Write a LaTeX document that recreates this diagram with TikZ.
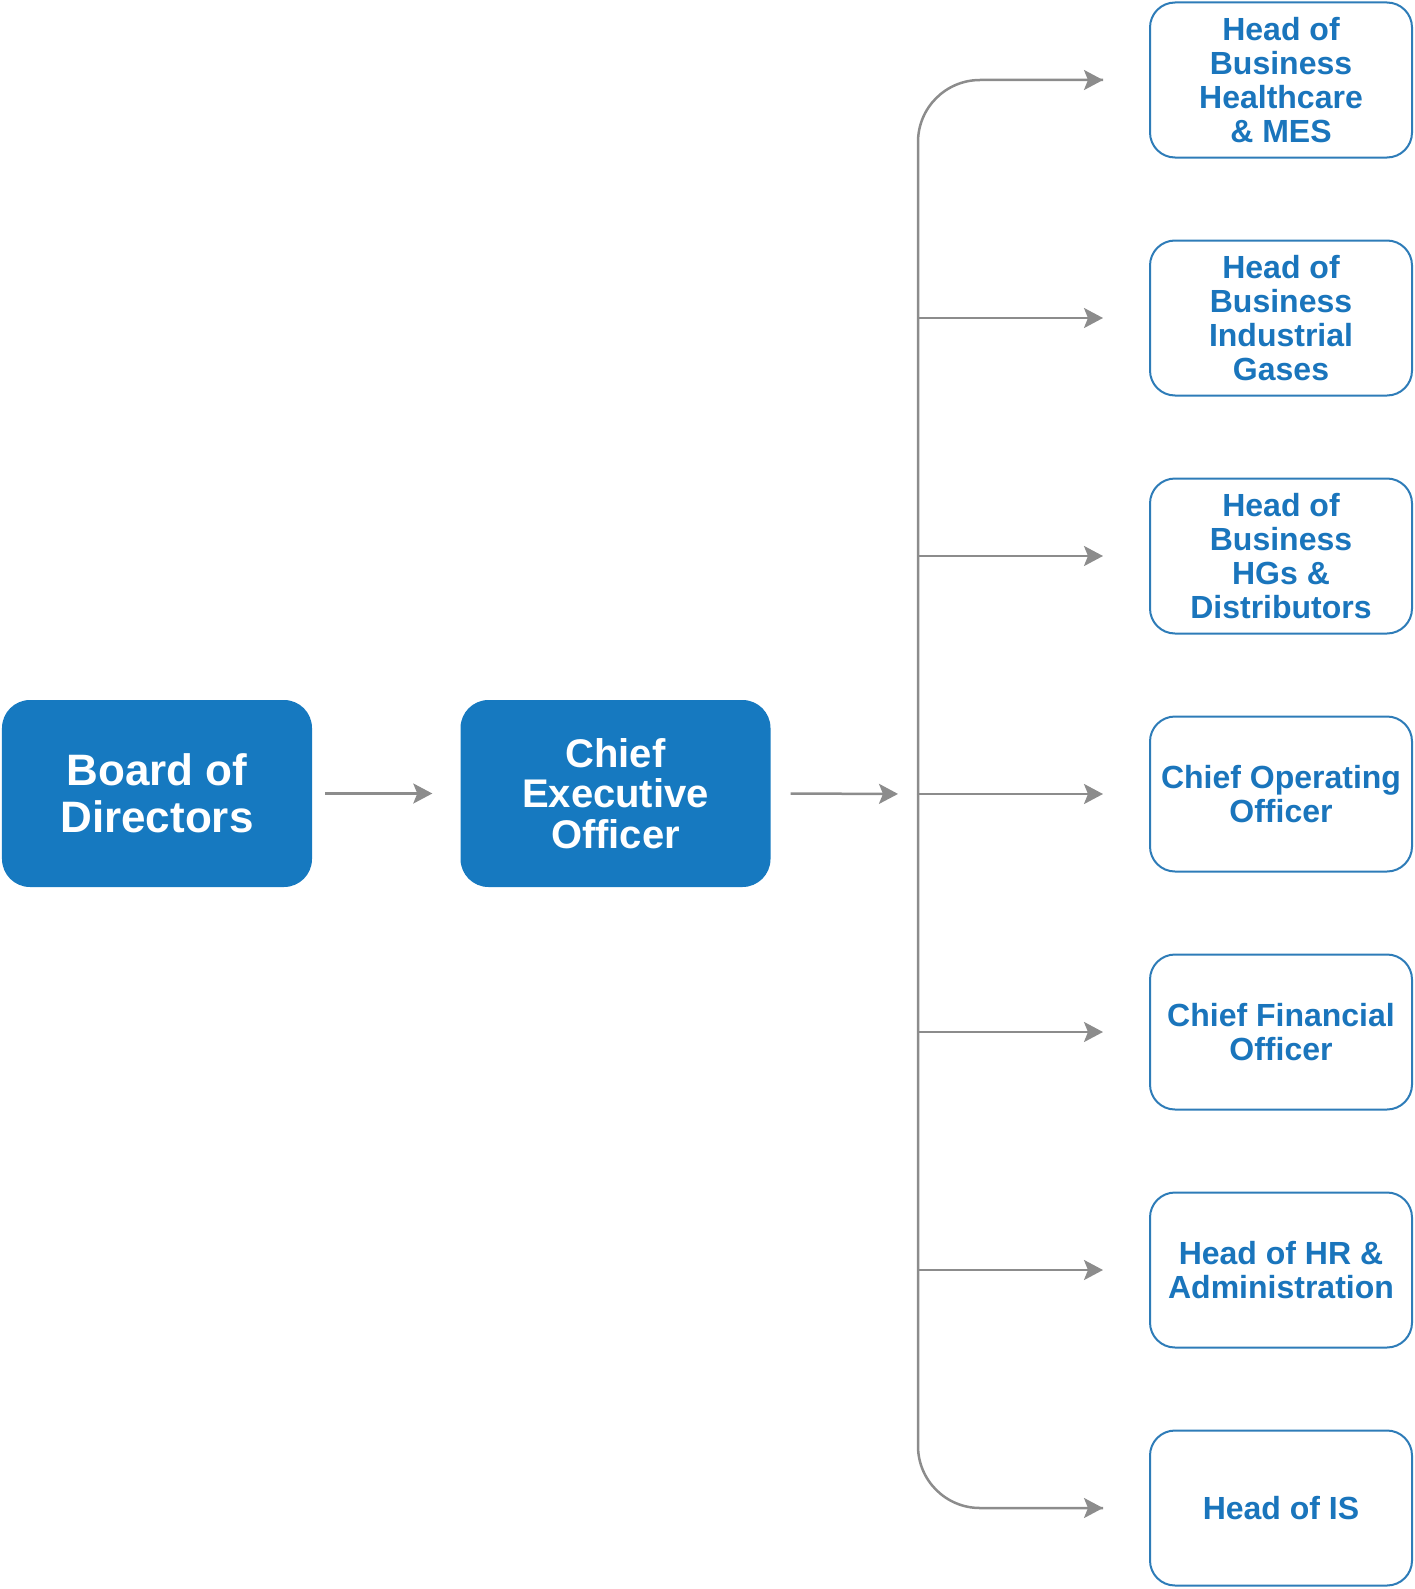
\documentclass[tikz,border=0pt]{standalone}
\usepackage{fontspec}
\setmainfont{Liberation Sans}
\usetikzlibrary{arrows.meta,calc}
\definecolor{dblue}{RGB}{22,121,192}
\definecolor{tblue}{RGB}{26,117,188}
\definecolor{lblue}{RGB}{46,124,184}
\definecolor{agray}{RGB}{140,140,140}
\tikzset{
  mainbox/.style={draw=none, fill=dblue, rounded corners=28bp, minimum width=310bp, minimum height=187bp, align=center, text=white, font=\bfseries\fontsize{44bp}{47bp}\selectfont, inner sep=0pt},
  subbox/.style={draw=lblue, line width=2bp, fill=white, rounded corners=25bp, minimum width=262bp, minimum height=155bp, align=center, text=tblue, font=\bfseries\fontsize{32bp}{34bp}\selectfont, inner sep=0pt},
  conn/.style={draw=agray, line width=2.5bp, -{Stealth[length=19bp,width=20bp,inset=4bp]}},
}
\begin{document}
\begin{tikzpicture}[x=1bp,y=-1bp]
\useasboundingbox (0,0) rectangle (1415,1589);
\node[mainbox] (board) at (157,793.5) {Board of\\Directors};
\node[mainbox, font=\bfseries\fontsize{40bp}{40.5bp}\selectfont] (ceo) at (615.5,793.5) {Chief\\Executive\\Officer};
\node[subbox] (b1) at (1281,80) {Head of\\Business\\Healthcare\\\& MES};
\node[subbox] (b2) at (1281,318) {Head of\\Business\\Industrial\\Gases};
\node[subbox] (b3) at (1281,556) {Head of\\Business\\HGs \&\\Distributors};
\node[subbox] (b4) at (1281,794) {Chief Operating\\Officer};
\node[subbox] (b5) at (1281,1032) {Chief Financial\\Officer};
\node[subbox] (b6) at (1281,1270) {Head of HR \&\\Administration};
\node[subbox] (b7) at (1281,1508) {Head of IS};
\coordinate (bus) at (918,794);
\draw[conn, shorten <=13bp, shorten >=28bp] (board.east) -- (ceo.west);
\draw[conn, shorten <=20bp, shorten >=20bp] (ceo.east) -- (bus);
\draw[draw=agray, line width=2.5bp, rounded corners=62bp] (bus) -- (bus |- b1.west) -- ([xshift=-46bp]b1.west);
\draw[conn] ([xshift=-49bp]b1.west) -- ([xshift=-46bp]b1.west);
\draw[draw=agray, line width=2.5bp, rounded corners=62bp] (bus) -- (bus |- b7.west) -- ([xshift=-46bp]b7.west);
\draw[conn] ([xshift=-49bp]b7.west) -- ([xshift=-46bp]b7.west);
\foreach \b in {b2,b3,b4,b5,b6}{
  \draw[conn, shorten >=46bp] (bus |- \b.west) -- (\b.west);
}
\end{tikzpicture}
\end{document}
